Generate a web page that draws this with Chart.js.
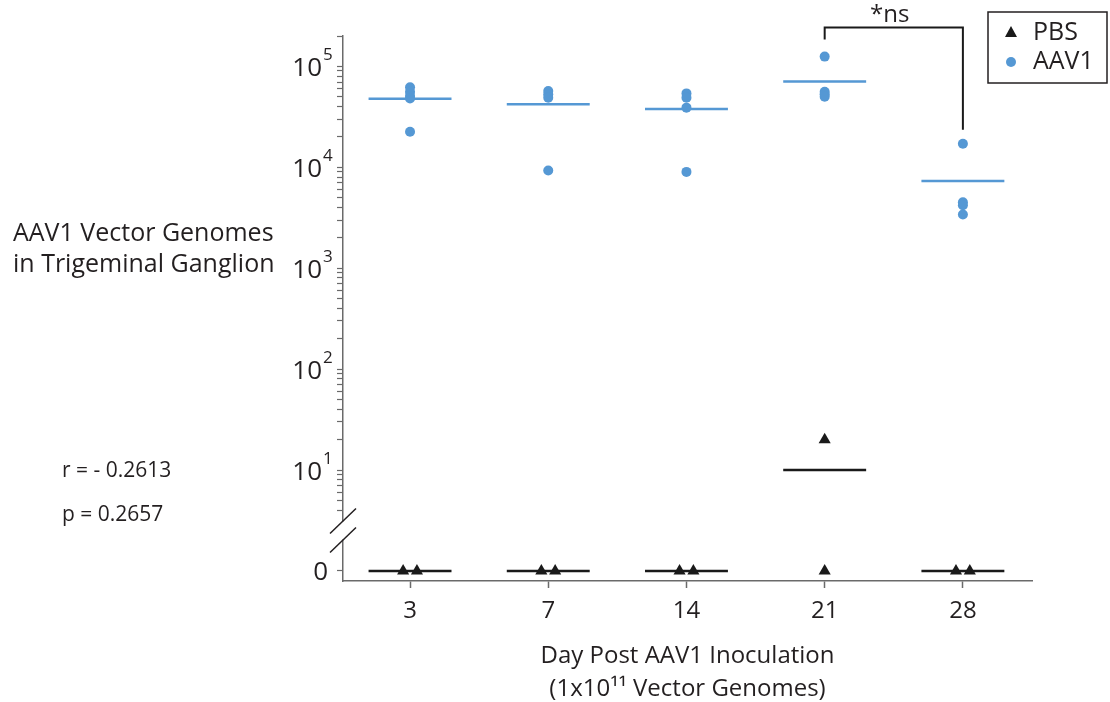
<!DOCTYPE html>
<html>
<head>
<meta charset="utf-8">
<script src="https://cdn.jsdelivr.net/npm/chart.js@4.4.1/dist/chart.umd.min.js"></script>
<style>
  body { margin: 0; background: #fff; }
  #wrap { position: relative; width: 1110px; height: 702px; font-family: 'Open Sans', sans-serif; color: #231f20; }
  #chart { position: absolute; left: 0; top: 0; }
  .lbl { position: absolute; white-space: nowrap; }
</style>
</head>
<body>
<div id="wrap">
  <canvas id="chart" width="1110" height="702"></canvas>
  <div class="lbl" style="left:13px; top:216px; font-size:25px; line-height:31px;">AAV1 Vector Genomes<br>in Trigeminal Ganglion</div>
  <div class="lbl" style="left:62px; top:459px; font-size:21px; line-height:1;">r = - 0.2613</div>
  <div class="lbl" style="left:62px; top:503px; font-size:21px; line-height:1;">p = 0.2657</div>
</div>
<script>
// Data (vector genomes per animal)
const days = ['3', '7', '14', '21', '28'];
const pbsValues = [
  [0, 0],
  [0, 0],
  [0, 0],
  [20, 0],
  [0, 0]
];
const aav1Values = [
  [62000, 56000, 51000, 48000, 22500],
  [57000, 53000, 49000, 9300],
  [54000, 49000, 39000, 9000],
  [125000, 56000, 53000, 50000],
  [17100, 4500, 4200, 3400]
];
const yMajorExponents = [0, 1, 2, 3, 4, 5];
const yTopValue = 200000;
const sigLabel = '*ns';
const sigPair = [3, 4];
const legendLabels = ['PBS', 'AAV1'];

const BLUE = '#5598d4';
const BLACK = '#1a1a1a';
const TEXT = '#231f20';
const AXIS = '#6a6a6a';
const FONT = "'Open Sans', sans-serif";

// 0 sits where 10^0 would be, the rest is log10
function toPlot(v) {
  return v > 0 ? Math.log10(v) : 0;
}

// spread exactly tied values side by side, like the original dot plot
function groupPoints(values, i, step) {
  const counts = {};
  values.forEach(v => { counts[v] = (counts[v] || 0) + 1; });
  const used = {};
  return values.map(v => {
    const k = used[v] || 0;
    used[v] = k + 1;
    return { x: i + (k - (counts[v] - 1) / 2) * step, y: toPlot(v) };
  });
}

function meanSegments(groups) {
  const pts = [];
  groups.forEach((vals, i) => {
    const m = vals.reduce((a, b) => a + b, 0) / vals.length;
    pts.push({ x: i - 0.3, y: toPlot(m) }, { x: i + 0.3, y: toPlot(m) }, { x: i + 0.5, y: null });
  });
  return pts;
}

// log axis ticks: majors plus minors, none inside the axis break
function yTickValues() {
  const t = yMajorExponents.slice();
  for (let d = 0; d < 5; d++) {
    for (let k = 2; k <= 9; k++) {
      if (d === 0 && k < 4) continue;
      t.push(Math.log10(k * Math.pow(10, d)));
    }
  }
  t.push(Math.log10(yTopValue));
  return t.sort((a, b) => a - b);
}

const pbsPoints = pbsValues.flatMap((vals, i) => groupPoints(vals, i, 0.1));
const aavPoints = aav1Values.flatMap((vals, i) => groupPoints(vals, i, 0.1));

const annotations = {
  id: 'annotations',
  afterDraw(chart) {
    const { ctx, chartArea } = chart;
    const x = chart.scales.x, y = chart.scales.y;
    const left = chartArea.left;
    ctx.save();

    // y tick labels with superscript exponents
    ctx.fillStyle = TEXT;
    ctx.textBaseline = 'alphabetic';
    yMajorExponents.forEach(e => {
      const py = y.getPixelForValue(e);
      if (e === 0) {
        ctx.font = '26px ' + FONT;
        ctx.textAlign = 'right';
        ctx.fillText('0', left - 15, py + 9);
        return;
      }
      ctx.font = '26px ' + FONT;
      ctx.textAlign = 'right';
      ctx.fillText('10', left - 21, py + 10);
      ctx.font = '17px ' + FONT;
      ctx.textAlign = 'left';
      ctx.fillText(String(e), left - 20, py - 6);
    });

    // axis break between 0 and 10^1
    const bc = y.getPixelForValue(0.4);
    ctx.fillStyle = '#fff';
    ctx.fillRect(left - 3, bc - 9, 6, 18);
    ctx.strokeStyle = TEXT;
    ctx.lineWidth = 1.5;
    [-9.5, 9.5].forEach(dy => {
      ctx.beginPath();
      ctx.moveTo(left - 13, bc + dy + 12.5);
      ctx.lineTo(left + 13, bc + dy - 12.5);
      ctx.stroke();
    });

    // significance bracket
    const xa = x.getPixelForValue(sigPair[0]);
    const xb = x.getPixelForValue(sigPair[1]);
    const ya = y.getPixelForValue(toPlot(Math.max(...aav1Values[sigPair[0]]))) - 17;
    const yb = y.getPixelForValue(toPlot(Math.max(...aav1Values[sigPair[1]]))) - 14;
    const bar = Math.min(ya, yb) - 12;
    ctx.strokeStyle = BLACK;
    ctx.lineWidth = 2;
    ctx.beginPath();
    ctx.moveTo(xa, ya);
    ctx.lineTo(xa, bar);
    ctx.lineTo(xb, bar);
    ctx.lineTo(xb, yb);
    ctx.stroke();
    ctx.fillStyle = TEXT;
    ctx.font = '24px ' + FONT;
    ctx.textAlign = 'center';
    ctx.fillText(sigLabel, (xa + xb) / 2 - 4, bar - 6);

    // legend box
    ctx.strokeStyle = TEXT;
    ctx.lineWidth = 1.5;
    ctx.strokeRect(988, 12, 119, 71);
    ctx.fillStyle = BLACK;
    ctx.beginPath();
    ctx.moveTo(1011, 26);
    ctx.lineTo(1017, 37);
    ctx.lineTo(1005, 37);
    ctx.closePath();
    ctx.fill();
    ctx.fillStyle = BLUE;
    ctx.beginPath();
    ctx.arc(1011, 62, 5, 0, Math.PI * 2);
    ctx.fill();
    ctx.fillStyle = TEXT;
    ctx.font = '25px ' + FONT;
    ctx.textAlign = 'left';
    ctx.textBaseline = 'middle';
    ctx.fillText(legendLabels[0], 1033, 33);
    ctx.fillText(legendLabels[1], 1033, 62);
    ctx.restore();
  }
};

new Chart(document.getElementById('chart'), {
  type: 'scatter',
  data: {
    datasets: [
      {
        label: legendLabels[1],
        data: aavPoints,
        pointStyle: 'circle',
        pointRadius: 5,
        backgroundColor: BLUE,
        borderWidth: 0,
        order: 1
      },
      {
        label: legendLabels[0],
        data: pbsPoints,
        pointStyle: 'triangle',
        pointRadius: 7,
        backgroundColor: BLACK,
        borderWidth: 0,
        order: 0
      },
      {
        type: 'line',
        label: 'AAV1 mean',
        data: meanSegments(aav1Values),
        borderColor: BLUE,
        borderWidth: 2.5,
        pointRadius: 0,
        spanGaps: false,
        order: 3
      },
      {
        type: 'line',
        label: 'PBS mean',
        data: meanSegments(pbsValues),
        borderColor: BLACK,
        borderWidth: 2.5,
        pointRadius: 0,
        spanGaps: false,
        order: 2
      }
    ]
  },
  options: {
    responsive: false,
    animation: false,
    layout: { padding: { top: 36, right: 78, left: 0, bottom: 0 } },
    plugins: {
      legend: { display: false },
      tooltip: { enabled: false }
    },
    scales: {
      x: {
        type: 'linear',
        min: -0.485,
        max: 4.5,
        afterBuildTicks: s => { s.ticks = days.map((d, i) => ({ value: i })); },
        afterFit: s => { s.height = 121; },
        ticks: {
          callback: v => days[v],
          font: { family: FONT, size: 24 },
          color: TEXT,
          padding: 9,
          autoSkip: false,
          maxRotation: 0
        },
        grid: { drawOnChartArea: false, tickLength: 7, color: AXIS, tickWidth: 1.5 },
        border: { color: AXIS, width: 1.5 },
        title: {
          display: true,
          text: ['Day Post AAV1 Inoculation', '(1x10¹¹ Vector Genomes)'],
          font: { family: FONT, size: 24, lineHeight: 1.375 },
          color: TEXT,
          padding: { top: 0, bottom: -4 }
        }
      },
      y: {
        type: 'linear',
        min: -0.1,
        max: Math.log10(yTopValue),
        afterBuildTicks: s => { s.ticks = yTickValues().map(v => ({ value: v })); },
        afterFit: s => { s.width = 343; },
        ticks: { callback: () => '', autoSkip: false },
        grid: { drawOnChartArea: false, tickLength: 6, color: AXIS, tickWidth: 1.2 },
        border: { color: AXIS, width: 1.5 }
      }
    }
  },
  plugins: [annotations]
});
</script>
</body>
</html>
